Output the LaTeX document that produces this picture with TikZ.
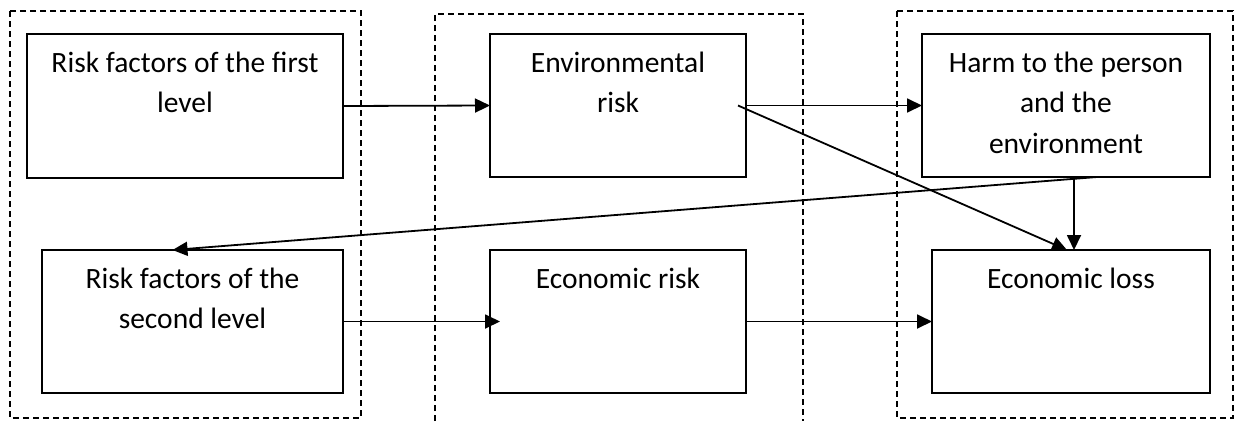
\documentclass[tikz,border=0pt]{standalone}
\usepackage{fontspec}
\setmainfont{Carlito}
\usetikzlibrary{arrows.meta,calc}
\newcommand\boxtxt[3]{\parbox[c][#2][t]{#1}{\centering\fontsize{29.5}{40.5}\selectfont\vspace*{10pt}\strut #3}}
\tikzset{
  box/.style={draw, line width=2pt, inner sep=0pt, outer sep=0pt, anchor=north west},
  frame/.style={draw, line width=1.8pt, dash pattern=on 6pt off 4pt},
  arr/.style={draw, line width=1.8pt, -{Triangle[length=15pt,width=14pt]}}
}
\begin{document}
\begin{tikzpicture}[x=1pt,y=-1pt]
\useasboundingbox (0,0) rectangle (1236,421);
% dashed groups
\draw[frame] (10,11) rectangle (361,418);
\draw[frame] (435,421) -- (435,14) -- (803,14) -- (803,421);
\draw[frame] (897,11) rectangle (1233,418);
% boxes
\node[box] (A) at (27,34) {\boxtxt{316pt}{144pt}{Risk factors of the first\\level}};
\node[box] (C) at (490,34) {\boxtxt{256pt}{143pt}{Environmental\\risk}};
\node[box] (E) at (922,34) {\boxtxt{288pt}{143pt}{Harm to the person\\and the\\environment}};
\node[box] (B) at (42,250) {\boxtxt{301pt}{143pt}{Risk factors of the\\second level}};
\node[box] (D) at (490,250) {\boxtxt{256pt}{143pt}{Economic risk}};
\node[box] (F) at (932,250) {\boxtxt{278pt}{143pt}{Economic loss}};
% connectors
\draw[arr] (A.east) -- (C.west);
\draw[arr] (C.east) -- (E.west);
\draw[arr] ($(C.east)+(-8,0)$) -- ($(F.north)+(-4,0)$);
\draw[arr] ($(E.south)+(8,0)$) -- ($(F.north)+(3,0)$);
\draw[arr] ($(E.south)+(31,0)$) -- ($(B.north)+(-20,0)$);
\draw[arr, shorten >=-10pt] (B.east) -- (D.west);
\draw[arr] (D.east) -- (F.west);
\end{tikzpicture}
\end{document}
